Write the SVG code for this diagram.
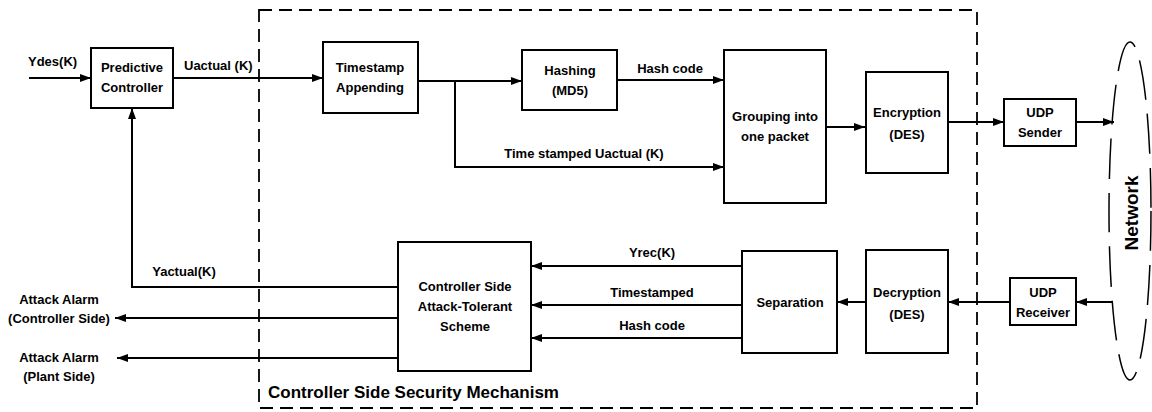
<svg xmlns="http://www.w3.org/2000/svg" width="1152" height="412" viewBox="0 0 1152 412">
<style>
.box{fill:#fff;stroke:#000;stroke-width:2}
.ln{fill:none;stroke:#000;stroke-width:2}
.ar{fill:none;stroke:#000;stroke-width:2;marker-end:url(#ah)}
text{font-family:"Liberation Sans",Arial,sans-serif;font-weight:bold;font-size:13px;fill:#000}
.c{text-anchor:middle}
</style>
<defs>
<marker id="ah" markerUnits="userSpaceOnUse" markerWidth="12" markerHeight="8" refX="11" refY="4" orient="auto">
<path d="M0,0 L11,4 L0,8 z" fill="#000"/>
</marker>
</defs>
<rect width="1152" height="412" fill="#fff"/>

<g id="security-mechanism">
<rect x="259" y="10" width="718" height="398" fill="none" stroke="#000" stroke-width="1.8" stroke-dasharray="13 7"/>
<text x="268" y="398" style="font-size:17px">Controller Side Security Mechanism</text>
</g>

<g id="network">
<ellipse cx="1130" cy="211" rx="21" ry="169" fill="none" stroke="#000" stroke-width="1.5" stroke-dasharray="40 14"/>
<text class="c" transform="translate(1138,213) rotate(-90)" style="font-size:19px">Network</text>
</g>

<g id="connectors">
<path class="ar" d="M29,78 H91"/>
<path class="ar" d="M173,78 H323"/>
<path class="ln" d="M418,81 H455"/>
<path class="ar" d="M455,81 H522"/>
<path class="ar" d="M455,81 V167 H724"/>
<path class="ar" d="M617,80 H724"/>
<path class="ar" d="M826,127 H865"/>
<path class="ar" d="M948,122 H1004"/>
<path class="ar" d="M1076,122 H1114"/>
<path class="ar" d="M1113,302 H1076"/>
<path class="ar" d="M1010,302 H948"/>
<path class="ar" d="M866,302 H837"/>
<path class="ar" d="M742,266 H531"/>
<path class="ar" d="M742,305 H531"/>
<path class="ar" d="M742,338 H531"/>
<path class="ar" d="M398,287 H132 V108"/>
<path class="ar" d="M398,318 H115"/>
<path class="ar" d="M398,358 H117"/>
<text x="28" y="66">Ydes(K)</text>
<text x="184" y="70">Uactual (K)</text>
<text class="c" x="670" y="73">Hash code</text>
<text class="c" x="584" y="158">Time stamped Uactual (K)</text>
<text class="c" x="652" y="257">Yrec(K)</text>
<text class="c" x="652" y="297">Timestamped</text>
<text class="c" x="652" y="330">Hash code</text>
<text class="c" x="184" y="276">Yactual(K)</text>
<text class="c" x="59" y="304">Attack Alarm</text>
<text class="c" x="59" y="323">(Controller Side)</text>
<text class="c" x="59" y="362">Attack Alarm</text>
<text class="c" x="59" y="381">(Plant Side)</text>
</g>

<g id="predictive-controller">
<rect class="box" x="91" y="48" width="82" height="60"/>
<text class="c" x="132" y="72">Predictive</text>
<text class="c" x="132" y="92">Controller</text>
</g>

<g id="timestamp-appending">
<rect class="box" x="323" y="42" width="95" height="71"/>
<text class="c" x="370" y="72">Timestamp</text>
<text class="c" x="370" y="92">Appending</text>
</g>

<g id="hashing">
<rect class="box" x="522" y="50" width="95" height="60"/>
<text class="c" x="570" y="75">Hashing</text>
<text class="c" x="570" y="95">(MD5)</text>
</g>

<g id="grouping">
<rect class="box" x="724" y="50" width="102" height="153"/>
<text class="c" x="775" y="121">Grouping into</text>
<text class="c" x="775" y="141">one packet</text>
</g>

<g id="encryption">
<rect class="box" x="866" y="72" width="82" height="101"/>
<text class="c" x="907" y="117">Encryption</text>
<text class="c" x="907" y="139">(DES)</text>
</g>

<g id="udp-sender">
<rect class="box" x="1004" y="99" width="72" height="47"/>
<text class="c" x="1040" y="117">UDP</text>
<text class="c" x="1040" y="137">Sender</text>
</g>

<g id="udp-receiver">
<rect class="box" x="1010" y="278" width="66" height="47"/>
<text class="c" x="1043" y="297">UDP</text>
<text class="c" x="1043" y="317">Receiver</text>
</g>

<g id="decryption">
<rect class="box" x="866" y="250" width="82" height="103"/>
<text class="c" x="907" y="297">Decryption</text>
<text class="c" x="907" y="319">(DES)</text>
</g>

<g id="separation">
<rect class="box" x="742" y="251" width="95" height="102"/>
<text class="c" x="790" y="307">Separation</text>
</g>

<g id="attack-tolerant">
<rect class="box" x="398" y="242" width="133" height="129"/>
<text class="c" x="465" y="291">Controller Side</text>
<text class="c" x="465" y="311">Attack-Tolerant</text>
<text class="c" x="465" y="331">Scheme</text>
</g>
</svg>
